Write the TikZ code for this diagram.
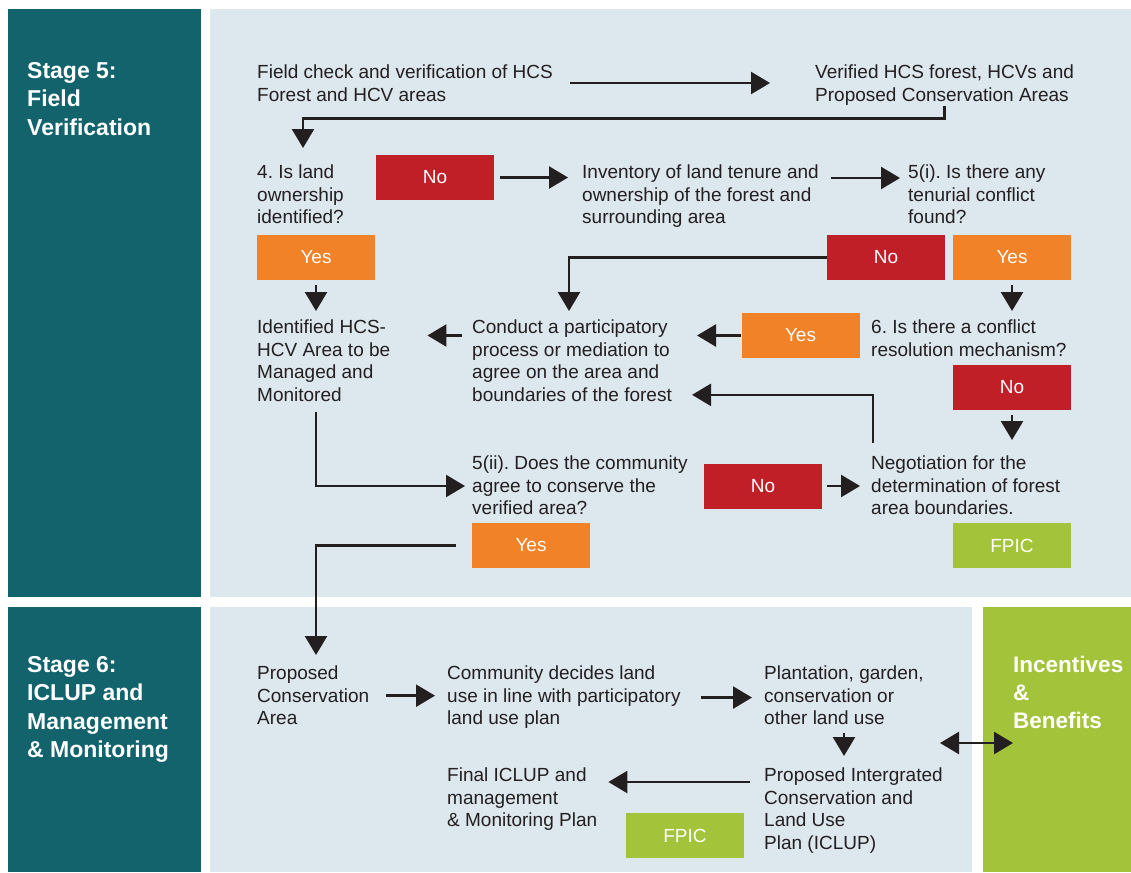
\documentclass[tikz,border=0pt]{standalone}
\usepackage{fontspec}
\setmainfont{Liberation Sans}
\usetikzlibrary{arrows.meta, positioning}
\frenchspacing

\definecolor{stageteal}{RGB}{18,99,108}
\definecolor{panelblue}{RGB}{221,231,238}
\definecolor{nored}{RGB}{192,31,40}
\definecolor{yesorange}{RGB}{241,130,39}
\definecolor{fpicgreen}{RGB}{163,195,58}
\definecolor{ink}{RGB}{35,31,32}

\begin{document}
\begin{tikzpicture}[
    x=1pt, y=-1pt, % one unit per pixel, y running down
    >={Triangle[length=19pt, width=22pt]}, % big solid heads
    arr/.style={->, line width=2.5pt, draw=ink},
    txt/.style={anchor=north west, align=left, inner sep=0pt, text=ink,
        font=\fontsize{19}{22.5}\selectfont},
    stagetxt/.style={anchor=north west, align=left, inner sep=0pt, text=white,
        font=\bfseries\fontsize{23}{28.5}\selectfont},
    tag/.style={minimum width=118pt, minimum height=45pt, inner sep=0pt,
        text=white, font=\fontsize{19}{22}\selectfont},
    notag/.style={tag, fill=nored},
    yestag/.style={tag, fill=yesorange},
    fpictag/.style={tag, fill=fpicgreen}
]
    \useasboundingbox (0,0) rectangle (1131,872);

    % Background panels
    \fill[stageteal] (8,9) rectangle (201,597);
    \fill[panelblue] (210,9) rectangle (1131,597);
    \fill[stageteal] (8,607) rectangle (201,872);
    \fill[panelblue] (210,607) rectangle (972,872);
    \fill[fpicgreen] (983,607) rectangle (1131,872);

    % Stage titles
    \node[stagetxt] (stage5) at (27,62) {Stage 5:\\Field\\Verification};
    \node[stagetxt] (stage6) at (27,656) {Stage 6:\\ICLUP and\\Management\\\& Monitoring};
    \node[stagetxt, font=\bfseries\fontsize{22.5}{28}\selectfont] (benefits) at (1013,655.5)
        {Incentives\\\&\\Benefits};

    % Stage 5 steps
    \node[txt] (check) at (257,65) {Field check and verification of HCS\\Forest and HCV areas};
    \node[txt] (verified) at (815,65) {Verified HCS forest, HCVs and\\Proposed Conservation Areas};
    \node[txt] (owner) at (257,165) {4. Is land\\ownership\\identified?};
    \node[txt] (inventory) at (582,165) {Inventory of land tenure and\\ownership of the forest and\\surrounding area};
    \node[txt] (conflict) at (908,165) {5(i). Is there any\\tenurial conflict\\found?};
    \node[txt] (identified) at (257,320) {Identified HCS-\\HCV Area to be\\Managed and\\Monitored};
    \node[txt] (mediation) at (472,320) {Conduct a participatory\\process or mediation to\\agree on the area and\\boundaries of the forest};
    \node[txt] (mechanism) at (871,320) {6. Is there a conflict\\resolution mechanism?};
    \node[txt] (negotiation) at (871,456) {Negotiation for the\\determination of forest\\area boundaries.};
    \node[txt] (agree) at (472,456) {5(ii). Does the community\\agree to conserve the\\verified area?};

    % Stage 6 steps
    \node[txt] (proposed) at (257,666) {Proposed\\Conservation\\Area};
    \node[txt] (decides) at (447,666) {Community decides land\\use in line with participatory\\land use plan};
    \node[txt] (landuse) at (764,666) {Plantation, garden,\\conservation or\\other land use};
    \node[txt] (iclup) at (764,768) {Proposed Intergrated\\Conservation and\\Land Use\\Plan (ICLUP)};
    \node[txt] (final) at (447,768) {Final ICLUP and\\management\\\& Monitoring Plan};

    % Answer tags
    \node[notag] (no1) at (435,177.5) {No};
    \node[yestag] (yes1) at (316,257.5) {Yes};
    \node[notag] (no2) at (886,257.5) {No};
    \node[yestag] (yes2) at (1012,257.5) {Yes};
    \node[yestag] (yes3) at (800.5,335.5) {Yes};
    \node[notag] (no3) at (1012,387.5) {No};
    \node[notag] (no4) at (763,486) {No};
    \node[fpictag] (fpic1) at (1012,545.5) {FPIC};
    \node[yestag] (yes4) at (531,545.5) {Yes};
    \node[fpictag] (fpic2) at (685,835.5) {FPIC};

    % Connectors, stage 5
    \draw[arr] ([shift={(17,18)}]check.north east) -- ([shift={(-45,18)}]verified.north west);
    \draw[arr] (verified.south) -- ++(0,13) -| ([shift={(46,-17)}]owner.north west);
    \draw[arr, shorten <=6pt, shorten >=14pt] (no1.east) -- (no1.east -| inventory.west);
    \draw[arr] ([shift={(12,13)}]inventory.north east) -- ([shift={(-8,13)}]conflict.north west);
    \draw[arr, shorten <=5pt, shorten >=9pt] (yes1.south) -- (yes1.south |- identified.north);
    \draw[arr] (no2.west) -| ([shift={(97,-9)}]mediation.north west);
    \draw[arr, shorten <=5pt, shorten >=9pt] (yes2.south) -- (yes2.south |- mechanism.north);
    \draw[arr] (yes3.west) -- ([shift={(25,15.5)}]mediation.north east);
    \draw[arr, shorten <=10pt, shorten >=37pt] (yes3.west -| mediation.west) -- (yes3.west -| identified.east);
    \draw[arr, shorten <=5pt, shorten >=16pt] (no3.south) -- (no3.south |- negotiation.north);
    \draw[arr] ([shift={(2,-13)}]negotiation.north west) |- ([shift={(20,-7)}]mediation.south east);
    \draw[arr, shorten <=5pt, shorten >=11pt] (no4.east) -- (no4.east -| negotiation.west);
    \draw[arr, shorten >=7pt] ([shift={(59,10)}]identified.south west) |- (no4.west -| agree.west);
    \draw[arr, shorten <=16pt, shorten >=11pt] (yes4.west) -| ([shift={(59,0)}]proposed.north west);

    % Connectors, stage 6
    \draw[arr, shorten <=17pt, shorten >=12pt] (proposed.east) -- (proposed.east -| decides.west);
    \draw[arr, shorten <=20pt, shorten >=12pt] (decides.east) -- (decides.east -| landuse.west);
    \draw[arr, shorten <=8pt, shorten >=12pt] ([shift={(80,0)}]landuse.south west) -- ([shift={(80,0)}]iclup.north west);
    \draw[arr] ([shift={(-14,14)}]iclup.north west) -- ([shift={(11,14)}]final.north east);
    \coordinate (exchange) at (940,743);
    \draw[arr, <->] (exchange) -- (exchange -| benefits.west);
\end{tikzpicture}
\end{document}
